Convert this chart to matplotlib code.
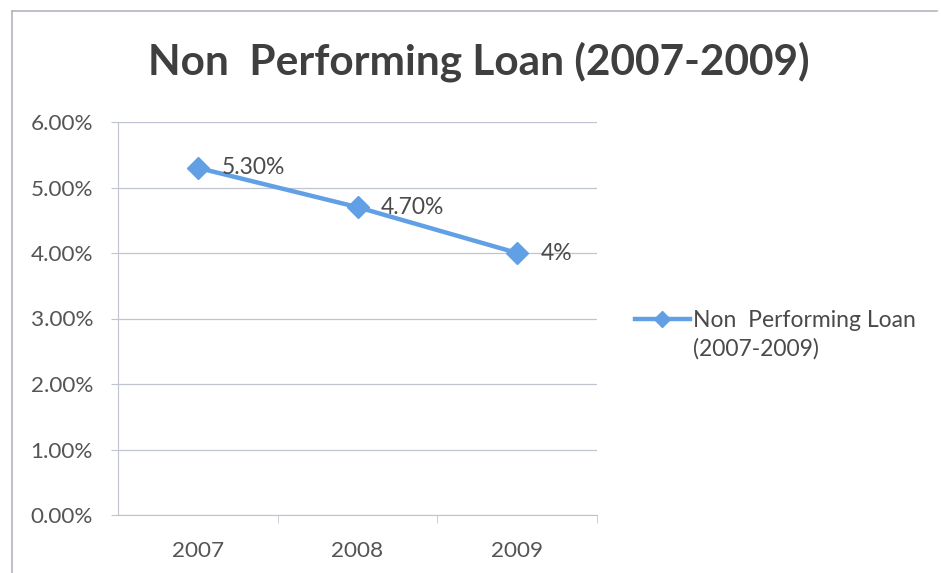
import matplotlib
matplotlib.use("Agg")
import matplotlib.pyplot as plt
from matplotlib.lines import Line2D

years = ["2007", "2008", "2009"]
npl = [5.30, 4.70, 4.00]
point_labels = ["5.30%", "4.70%", "4%"]
y_ticks = [0, 1, 2, 3, 4, 5, 6]
y_tick_labels = ["0.00%", "1.00%", "2.00%", "3.00%", "4.00%", "5.00%", "6.00%"]
title = "Non  Performing Loan (2007-2009)"
series_name = "Non  Performing Loan\n(2007-2009)"

plt.rcParams["font.family"] = ["Lato", "DejaVu Sans"]

W, H = 941, 573
fig = plt.figure(figsize=(W / 100, H / 100), dpi=100)
fig.patch.set_facecolor("white")

# outer chart frame (left and top edges)
frame_col = "#b4b4c0"
fig.add_artist(Line2D([12 / W, 12 / W], [1 - 11 / H, 0], color=frame_col, lw=1.2))
fig.add_artist(Line2D([12 / W, 937 / W], [1 - 11 / H, 1 - 11 / H], color=frame_col, lw=1.2))

left, right, top, bottom = 118, 597, 122, 515
ax = fig.add_axes([left / W, 1 - bottom / H, (right - left) / W, (bottom - top) / H])

line_col = "#62a0e6"
text_col = "#4a4a4a"
x = list(range(len(years)))
ax.plot(x, npl, color=line_col, lw=3.2, marker="D", markersize=11,
        markerfacecolor=line_col, markeredgecolor=line_col, zorder=3)

for xi, yi, lab in zip(x, npl, point_labels):
    ax.annotate(lab, (xi, yi), xytext=(17, 0), textcoords="offset points",
                ha="left", va="center", fontsize=16.5, color=text_col, zorder=4)

ax.set_xlim(-0.5, 2.5)
ax.set_ylim(0, 6)
ax.set_yticks(y_ticks)
ax.set_yticklabels(y_tick_labels)
ax.set_xticks(x)
ax.set_xticklabels(years)
ax.set_xticks([0.5, 1.5, 2.5], minor=True)

grid_col = "#c0c4d0"
ax.grid(axis="y", color=grid_col, lw=0.9)
ax.set_axisbelow(True)
for s in ["top", "right"]:
    ax.spines[s].set_visible(False)
ax.spines["left"].set_color(grid_col)
ax.spines["bottom"].set_color(grid_col)
ax.tick_params(axis="y", length=5, color=grid_col, labelsize=16.2, labelcolor="#555555", pad=13)
ax.tick_params(axis="x", which="major", length=0, labelsize=16.2, labelcolor="#555555", pad=19)
ax.tick_params(axis="x", which="minor", length=6, color=grid_col)

fig.text(479 / W, 1 - 62 / H, title, ha="center", va="center",
         fontsize=30.5, fontweight="bold", color="#3f3f3f")

# legend entry to the right of the plot
ly = 1 - 319 / H
fig.add_artist(Line2D([635 / W, 690 / W], [ly, ly], color=line_col, lw=3.2))
fig.add_artist(Line2D([662 / W], [ly], color=line_col, marker="D", markersize=8, lw=0))
fig.text(693 / W, 1 - 335 / H, series_name, ha="left", va="center",
         fontsize=16.5, color=text_col, linespacing=1.4)

fig.savefig("out.png", dpi=100)
